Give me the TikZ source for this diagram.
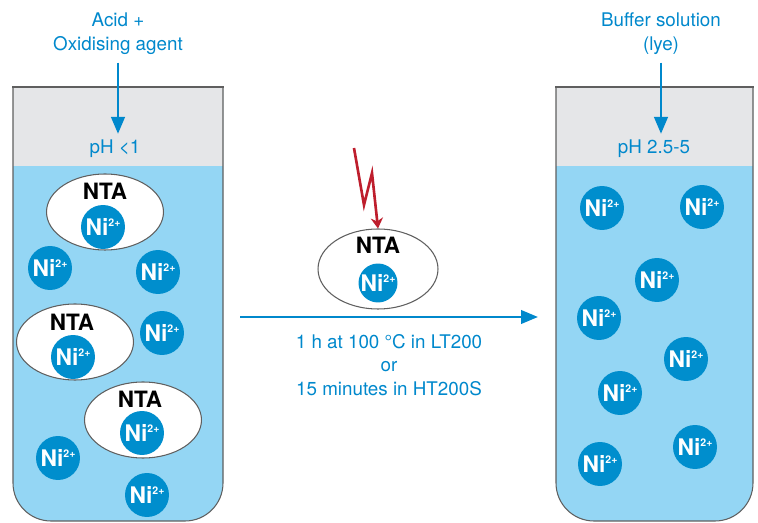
\documentclass[tikz,border=0pt]{standalone}
\usepackage{fontspec}
\setmainfont{TeX Gyre Heros}
\usetikzlibrary{arrows.meta,positioning,shapes.geometric}
\definecolor{liqblue}{RGB}{148,214,244}
\definecolor{capgrey}{RGB}{229,230,232}
\definecolor{ionblue}{RGB}{0,142,205}
\definecolor{txtblue}{RGB}{0,136,204}
\definecolor{boltred}{RGB}{190,30,45}
\definecolor{rimgrey}{RGB}{95,95,95}
\newcommand{\niion}{Ni\raisebox{5pt}{\fontsize{6}{6}\selectfont 2+}}
\tikzset{
  lbl/.style={text=txtblue,font=\fontsize{10.7}{13.5}\selectfont,align=center},
  ion/.style={circle,fill=ionblue,text=white,minimum size=0.88cm,inner sep=0pt,font=\fontsize{13}{13}\selectfont\bfseries},
  smion/.style={ion,minimum size=0.78cm},
  cplx/.style={ellipse,draw=rimgrey,fill=white,minimum width=2.34cm,minimum height=1.52cm,inner sep=0pt,line width=0.6pt},
  ntalbl/.style={font=\fontsize{12.8}{13}\selectfont\bfseries,inner sep=0pt},
  tube/.style={draw=rimgrey,line width=0.6pt,line cap=rect},
  arr/.style={-{Triangle[length=0.34cm,width=0.27cm]},txtblue,line width=1.6pt},
  bolt/.style={-{Stealth[length=6pt,width=7pt]},boltred,line width=1.5pt}
}
\begin{document}
\begin{tikzpicture}[x=0.02cm,y=-0.02cm]
  \useasboundingbox (0,0) rectangle (758,523);

  % tubes
  \fill[liqblue,rounded corners=0.76cm] (13,87) -- (13,521) -- (223,521) -- (223,87);
  \fill[capgrey] (13,87) rectangle (223,166);
  \draw[tube,rounded corners=0.76cm] (13,87) -- (13,521) -- (223,521) -- (223,87);
  \draw[tube] (13,87) -- (223,87);

  \fill[liqblue,rounded corners=0.76cm] (556,87) -- (556,521) -- (753,521) -- (753,87);
  \fill[capgrey] (556,87) rectangle (753,166);
  \draw[tube,rounded corners=0.76cm] (556,87) -- (556,521) -- (753,521) -- (753,87);
  \draw[tube] (556,87) -- (753,87);

  % left tube: acid
  \node[cplx] (cplxA) at (105,212) {};
  \node[ntalbl] (ntaA) at (105,191) {NTA};
  \node[ion] (niA) at (103,227) {\niion};
  \node[cplx] (cplxB) at (75,342) {};
  \node[ntalbl] (ntaB) at (72,322) {NTA};
  \node[ion] (niB) at (73,357) {\niion};
  \node[cplx] (cplxC) at (143,420) {};
  \node[ntalbl] (ntaC) at (140,399) {NTA};
  \node[ion] (niC) at (142,433) {\niion};

  \node[ion] (freeA) at (50,268) {\niion};
  \node[ion] (freeB) at (158,272) {\niion};
  \node[ion] (freeC) at (162,333) {\niion};
  \node[ion] (freeD) at (58,458) {\niion};
  \node[ion] (freeE) at (147,495) {\niion};

  % right tube: buffer
  \node[ion] (ionA) at (602,208) {\niion};
  \node[ion] (ionB) at (702,207) {\niion};
  \node[ion] (ionC) at (657,280) {\niion};
  \node[ion] (ionD) at (599,318) {\niion};
  \node[ion] (ionE) at (686,359) {\niion};
  \node[ion] (ionF) at (620,393) {\niion};
  \node[ion] (ionG) at (695,447) {\niion};
  \node[ion] (ionH) at (600,464) {\niion};

  % middle complex hit by oxidiser
  \node[cplx,minimum width=2.4cm,minimum height=1.6cm] (cplxM) at (378,269) {};
  \node[ntalbl] (ntaM) at (378,245) {NTA};
  \node[smion] (niM) at (378,283) {\niion};
  \coordinate (boltS) at (354,148);
  \draw[bolt] (boltS) -- (364,205) -- (372,173) -- (cplxM.north);

  % reagents
  \node[lbl] (acid) at (118,34) {Acid +\\Oxidising agent};
  \node[lbl] (phA) at (115,149) {pH <1};
  \draw[arr,shorten <=1pt] (acid) -- (acid |- phA.north);

  \node[lbl] (buffer) at (661,34) {Buffer solution\\(lye)};
  \node[lbl] (phB) at (654,149) {pH 2.5-5};
  \draw[arr,shorten <=1pt] (buffer) -- (buffer |- phB.north);

  % digestion step
  \coordinate (heatS) at (240,317);
  \coordinate (heatE) at (538,317);
  \draw[arr,line width=1.4pt] (heatS) -- (heatE)
    node[lbl,midway,below=0.2cm] (heat) {1 h at 100 °C in LT200\\or\\15 minutes in HT200S};
\end{tikzpicture}
\end{document}
